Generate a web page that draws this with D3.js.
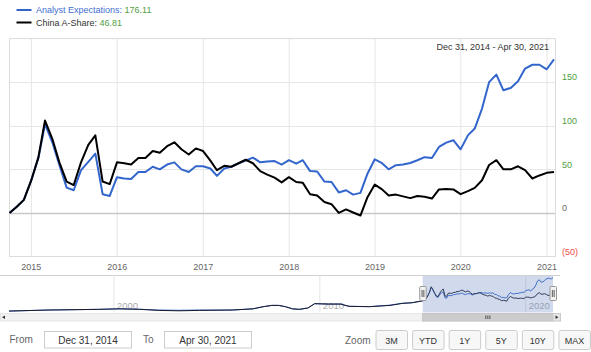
<!DOCTYPE html>
<html><head><meta charset="utf-8">
<script src="https://cdn.jsdelivr.net/npm/d3@7"></script>
<style>
html,body{margin:0;padding:0;background:#fff;}
svg{display:block;font-family:"Liberation Sans",Arial,sans-serif;}
</style></head><body>
<svg id="chart" width="591" height="352"></svg>
<script>
// ---------- DATA ----------
const seriesNames = ["Analyst Expectations", "China A-Share"];
const analyst = [0,7,15,37,63,102,81,55,29,26,49,58.5,68,21.5,19.5,41,39.5,39,47,47,53,50,55.5,58,50,47,53.5,53.5,51,42.5,51,53,57,60,63.5,58,59,59.5,55.5,60.5,56.5,60.5,48,47.5,36,35.5,23.5,26,21,23,45,61.5,57,50,54.7,55.5,57.3,60.4,64,63,75.7,80.7,83.4,73,89,96.8,119.7,150,158.7,140.7,143.4,151,165.6,170,170,164.8,176.11];
const ashare = [0,7,15,37,64,106,85,58,36,32,58,78,89,36,33,58,57,55.5,63,63,71,69,76.5,81,73,67,74,71,60,49,54,53,57,61,57,48,44,40.5,35,41,35.5,34.5,21.5,20,12.6,10,0,4,0.5,-3,18,32.5,27,20,21,19,17,19.5,18.5,16.5,27,27.5,27,21.5,25,28.7,37.5,55,60.5,50,50,53.5,49,39.5,43,46,46.81];
const mainAxisStart = [2014, 8];       // first plotted month on main axis (Sep 2014)
const windowStart = [2014, 11];        // Dec 2014 (navigator / range input)
const rangeFrom = "Dec 31, 2014", rangeTo = "Apr 30, 2021";
const yTicks = [-50, 0, 50, 100, 150];
const yDomain = [-50, 200];
const xTickYears = [2015, 2016, 2017, 2018, 2019, 2020, 2021];
// navigator history before the selected window
const navHistDates = ["1994-11-25","1996-11-01","1999-04-01","2000-04-01","2001-04-01","2002-03-01","2003-03-01","2004-03-01","2005-10-01","2006-10-01","2007-04-01","2007-09-01","2008-01-01","2008-05-01","2008-09-01","2009-01-01","2009-06-01","2009-10-01","2010-06-01","2011-01-01","2011-06-01","2012-06-01","2013-06-01","2014-01-01","2014-07-01"];
const navHistAshare = [-78,-70,-65,-61,-65,-73,-76,-73,-70,-61,-45,-35,-35,-45,-61,-65,-55,-22,-25,-25,-42,-45,-35,-20,-15];
const navHistAnalyst = [-78,-70,-65,-61,-64,-70,-72,-70,-70,-61,-45,-35,-35,-45,-61,-65,-55,-22,-25,-25,-42,-44,-33,-19,-14];
const navTickYears = [2000, 2010, 2020];
const navDomain = ["1994-11-25", "2021-04-30"];
const zoomButtons = ["3M","YTD","1Y","5Y","10Y","MAX"];

// ---------- SETUP ----------
const svg = d3.select("#chart");
const monthEnd = (y, m, i) => d3.timeDay.offset(d3.timeMonth.offset(new Date(y, m + 1, 1), i), -1);
const mainDates = analyst.map((_, i) => monthEnd(mainAxisStart[0], mainAxisStart[1], i));
const winDates = analyst.map((_, i) => monthEnd(windowStart[0], windowStart[1], i));

const plot = {l: 9, r: 555, t: 38.6, b: 256.5};
const x = d3.scaleTime().domain([mainDates[0], mainDates[mainDates.length - 1]]).range([9.5, 554]);
const y = d3.scaleLinear().domain(yDomain).range([plot.b, plot.t]);

const BLUE = "#3366cc", GREEN = "#4f9e3f", RED = "#f04a4a";

// grid
const g = svg.append("g");
g.selectAll(".vg").data(xTickYears).join("line")
  .attr("x1", d => x(new Date(d, 0, 1))).attr("x2", d => x(new Date(d, 0, 1)))
  .attr("y1", plot.t).attr("y2", plot.b).attr("stroke", "#e6e6e6").attr("stroke-width", 1);
g.selectAll(".hg").data(yTicks.filter(d => d > yDomain[0])).join("line")
  .attr("x1", plot.l).attr("x2", plot.r)
  .attr("y1", d => Math.round(y(d)) + 0.5).attr("y2", d => Math.round(y(d)) + 0.5)
  .attr("stroke", d => d === 0 ? "#c8c8c8" : "#e6e6e6").attr("stroke-width", d => d === 0 ? 1.5 : 1);
g.append("rect").attr("x", plot.l + 0.5).attr("y", plot.t).attr("width", plot.r - plot.l)
  .attr("height", plot.b - plot.t).attr("fill", "none").attr("stroke", "#dcdcdc");

// lines
const line = d3.line().x((d, i) => x(mainDates[i])).y(d => y(d));
svg.append("path").datum(analyst).attr("d", line).attr("fill", "none")
  .attr("stroke", BLUE).attr("stroke-width", 2).attr("stroke-linejoin", "round");
svg.append("path").datum(ashare).attr("d", line).attr("fill", "none")
  .attr("stroke", "#000").attr("stroke-width", 2).attr("stroke-linejoin", "round");

// axes labels
const fmt = d => d < 0 ? `(${Math.abs(d)})` : `${d}`;
svg.selectAll(".yl").data(yTicks).join("text")
  .attr("x", 562).attr("y", d => y(d) - 1.8).attr("font-size", 9)
  .attr("fill", d => d > 0 ? GREEN : (d < 0 ? RED : "#666")).text(fmt);
svg.selectAll(".xl").data(xTickYears).join("text")
  .attr("x", d => x(new Date(d, 0, 1))).attr("y", 270).attr("text-anchor", "middle")
  .attr("font-size", 9).attr("fill", "#666").text(d => d);

// date range text
svg.append("text").attr("x", 549).attr("y", 50).attr("text-anchor", "end")
  .attr("font-size", 9).attr("fill", "#333").text(`${rangeFrom} - ${rangeTo}`);

// legend
const legend = [
  {name: seriesNames[0], val: analyst[analyst.length - 1], color: BLUE, tcol: "#3f6fd1", y: 10},
  {name: seriesNames[1], val: ashare[ashare.length - 1], color: "#000", tcol: "#333", y: 22.5}
];
legend.forEach(l => {
  svg.append("line").attr("x1", 16.5).attr("x2", 31.5).attr("y1", l.y).attr("y2", l.y)
    .attr("stroke", l.color).attr("stroke-width", 2);
  const t = svg.append("text").attr("x", 36).attr("y", l.y + 3.2).attr("font-size", 9);
  t.append("tspan").attr("fill", l.tcol).text(l.name + ": ");
  t.append("tspan").attr("fill", GREEN).text(l.val.toFixed(2));
});

// ---------- NAVIGATOR ----------
const nav = {t: 275, b: 312.5};
const nx = d3.scaleTime().domain(navDomain.map(d => new Date(d))).range([9, 553]);
const ny = d3.scaleLinear().domain([-85, 195]).range([312, 275]);
svg.append("line").attr("x1", 0).attr("x2", 560).attr("y1", nav.t + 0.5).attr("y2", nav.t + 0.5)
  .attr("stroke", "#d0d0d0");
svg.selectAll(".ng").data(navTickYears).join("line")
  .attr("x1", d => nx(new Date(d, 0, 1))).attr("x2", d => nx(new Date(d, 0, 1)))
  .attr("y1", nav.t).attr("y2", nav.b).attr("stroke", "#e6e6e6");
svg.selectAll(".nl").data(navTickYears).join("text")
  .attr("x", d => nx(new Date(d, 0, 1)) + 3).attr("y", 308.5).attr("font-size", 9.5)
  .attr("fill", "#999").attr("opacity", 0.8).text(d => d);

const navA = navHistDates.map((d, i) => ({d: new Date(d), v: navHistAnalyst[i]}))
  .concat(winDates.map((d, i) => ({d, v: analyst[i]})));
const navB = navHistDates.map((d, i) => ({d: new Date(d), v: navHistAshare[i]}))
  .concat(winDates.map((d, i) => ({d, v: ashare[i]})));
const nline = d3.line().x(p => nx(p.d)).y(p => ny(p.v));
svg.append("path").datum(navA).attr("d", nline).attr("fill", "none").attr("stroke", BLUE).attr("stroke-width", 1);
svg.append("path").datum(navB).attr("d", nline).attr("fill", "none").attr("stroke", "#1b1b2a").attr("stroke-width", 1);

const wx0 = nx(winDates[0]), wx1 = nx(winDates[winDates.length - 1]);
svg.append("rect").attr("x", wx0).attr("y", nav.t + 1).attr("width", wx1 - wx0).attr("height", nav.b - nav.t - 1)
  .attr("fill", "rgba(102,133,194,0.3)");
[wx0, wx1].forEach(hx => {
  svg.append("rect").attr("x", hx - 3).attr("y", 286.5).attr("width", 6.5).attr("height", 14).attr("rx", 1)
    .attr("fill", "#f2f2f2").attr("stroke", "#999");
  [-1, 1].forEach(o => svg.append("line").attr("x1", hx + o * 0.9 + 0.25).attr("x2", hx + o * 0.9 + 0.25)
    .attr("y1", 290).attr("y2", 297).attr("stroke", "#333").attr("stroke-width", 0.8));
});

// scrollbar
const sb = {t: 313.5, h: 7.5};
svg.append("rect").attr("x", 0.5).attr("y", sb.t).attr("width", 560).attr("height", sb.h)
  .attr("fill", "#f2f2f2").attr("stroke", "#e6e6e6");
svg.append("rect").attr("x", wx0).attr("y", sb.t).attr("width", wx1 - wx0).attr("height", sb.h)
  .attr("fill", "#cccccc").attr("stroke", "#c4c4c4");
const gx = (wx0 + wx1) / 2;
[-2, 0, 2].forEach(o => svg.append("line").attr("x1", gx + o).attr("x2", gx + o)
  .attr("y1", sb.t + 2).attr("y2", sb.t + sb.h - 2).attr("stroke", "#333").attr("stroke-width", 0.8));
svg.append("rect").attr("x", 553).attr("y", sb.t).attr("width", 7.5).attr("height", sb.h)
  .attr("fill", "#e6e6e6").attr("stroke", "#ccc");
svg.append("path").attr("d", `M555.5,${sb.t + 2} L558.5,${sb.t + sb.h / 2} L555.5,${sb.t + sb.h - 2} Z`).attr("fill", "#333");
svg.append("path").attr("d", `M5,${sb.t + 2} L2,${sb.t + sb.h / 2} L5,${sb.t + sb.h - 2} Z`).attr("fill", "#333");

// ---------- RANGE SELECTOR ----------
svg.append("text").attr("x", 9.5).attr("y", 343).attr("font-size", 10).attr("fill", "#666").text("From");
svg.append("text").attr("x", 143).attr("y", 343).attr("font-size", 10).attr("fill", "#666").text("To");
[[44, rangeFrom], [164, rangeTo]].forEach(([bx, txt]) => {
  svg.append("rect").attr("x", bx + 0.5).attr("y", 331.5).attr("width", 87).attr("height", 16.5)
    .attr("fill", "#fff").attr("stroke", "#ccc");
  svg.append("text").attr("x", bx + 44).attr("y", 343.5).attr("text-anchor", "middle")
    .attr("font-size", 10).attr("fill", "#333").text(txt);
});
svg.append("text").attr("x", 345).attr("y", 344).attr("font-size", 10).attr("fill", "#666").text("Zoom");
const bx = d3.scaleBand().domain(zoomButtons).range([375.5, 591]).paddingInner(0.11).paddingOuter(0);
zoomButtons.forEach(b => {
  svg.append("rect").attr("x", bx(b) + 0.5).attr("y", 330.5).attr("width", 31.5).attr("height", 19).attr("rx", 2)
    .attr("fill", "#f7f7f7").attr("stroke", "#cccccc");
  svg.append("text").attr("x", bx(b) + 16).attr("y", 343.5).attr("text-anchor", "middle")
    .attr("font-size", 9).attr("fill", "#333").text(b);
});
</script>
</body></html>
